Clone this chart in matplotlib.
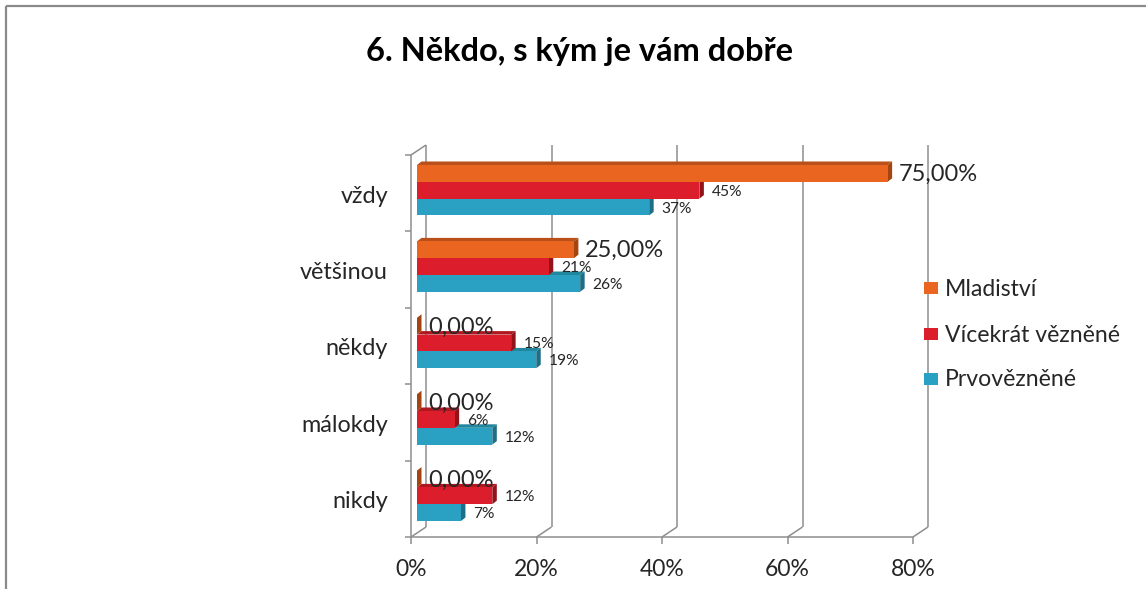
import matplotlib
matplotlib.use("Agg")
import matplotlib.pyplot as plt
from matplotlib.patches import Polygon, Rectangle
from matplotlib.lines import Line2D
from matplotlib.transforms import IdentityTransform

# ---- data ----
categories = ["vždy", "většinou", "někdy", "málokdy", "nikdy"]
series_names = ["Mladiství", "Vícekrát vězněné", "Prvovězněné"]
mladistvi = [75, 25, 0, 0, 0]
vicekrat = [45, 21, 15, 6, 12]
prvovezneni = [37, 26, 19, 12, 7]
x_ticks = [0, 20, 40, 60, 80]
x_tick_labels = ["0%", "20%", "40%", "60%", "80%"]
title = "6. Někdo, s kým je vám dobře"

face_colors = ["#EA6520", "#DC1E2C", "#2AA1C2"]
cap_colors = ["#A4450F", "#93131B", "#1C6F86"]
top_colors = ["#B9501A", "#B01820", "#23869F"]
label_big = [True, False, False]

FONT = "Lato"
W, H = 1146, 589
fig = plt.figure(figsize=(W / 100, H / 100), dpi=100)
ax = fig.add_axes([411 / W, (H - 537) / H, 502 / W, 382 / H])
ax.set_xlim(0, 80)
ax.set_ylim(-0.5, len(categories) - 0.5)
ax.axis("off")

ID = IdentityTransform()
grid_c = "#8E8E8E"
lw = 1.1

WX, WY = 15, 10   # wall depth (display px)
FX, FY = 6, 3     # bar front face offset
BX, BY = 10.5, 6.5  # bar back face offset


def P(x, y, dx=0.0, dy=0.0):
    a = ax.transData.transform((x, y))
    return (a[0] + dx, a[1] + dy)


def line(p1, p2, **kw):
    fig.add_artist(Line2D([p1[0], p2[0]], [p1[1], p2[1]], transform=ID,
                          color=kw.get("color", grid_c), lw=kw.get("lw", lw),
                          zorder=kw.get("zorder", 1), solid_capstyle="butt"))


ytop = len(categories) - 0.5
# back wall gridlines & floor
for t in x_ticks:
    line(P(t, -0.5, WX, WY), P(t, ytop, WX, WY))
    line(P(t, -0.5), P(t, -0.5, WX, WY))
    line(P(t, -0.5), P(t, -0.5, 0, -7))
line(P(0, -0.5), P(0, ytop))
line(P(0, ytop), P(0, ytop, WX, WY))
line(P(0, -0.5), P(x_ticks[-1], -0.5))
for k in range(len(categories) + 1):
    b = -0.5 + k
    line(P(0, b), P(0, b, -6, 0))

# bars
series = [mladistvi, vicekrat, prvovezneni]
bh = 0.22
offsets = [bh, 0.0, -bh]
n = len(categories)
for i, cat in enumerate(categories):
    pos = n - 1 - i
    for j in [2, 1, 0]:
        v = series[j][i]
        yc = pos + offsets[j]
        y0, y1 = yc - bh / 2, yc + bh / 2
        fl_b = P(0, y0, FX, FY); fr_b = P(v, y0, FX, FY)
        fr_t = P(v, y1, FX, FY); fl_t = P(0, y1, FX, FY)
        bl_t = P(0, y1, BX, BY); br_t = P(v, y1, BX, BY)
        br_b = P(v, y0, BX, BY)
        fig.add_artist(Polygon([fl_t, fr_t, br_t, bl_t], closed=True, transform=ID,
                               facecolor=top_colors[j], edgecolor="none", zorder=3))
        fig.add_artist(Polygon([fr_b, fr_t, br_t, br_b], closed=True, transform=ID,
                               facecolor=cap_colors[j], edgecolor="none", zorder=3))
        if v > 0:
            fig.add_artist(Polygon([fl_b, fr_b, fr_t, fl_t], closed=True, transform=ID,
                                   facecolor=face_colors[j], edgecolor="none", zorder=3))
        cx, cy = P(v, yc, BX, FY)
        if label_big[j]:
            txt = f"{v:.2f}%".replace(".", ",")
            fig.text(cx + 7, cy - 1, txt, transform=ID, ha="left", va="center",
                     fontsize=17, family=FONT, color="#262626", zorder=5)
        else:
            txt = f"{v}%"
            fig.text(cx + 8, cy - 1.5, txt, transform=ID, ha="left", va="center",
                     fontsize=11.2, family=FONT, color="#262626", zorder=5)
    lx, ly = P(0, pos)
    fig.text(388, ly - 3, cat, transform=ID, ha="right", va="center",
             fontsize=16.8, family=FONT, color="#262626")

# x tick labels
for t, lab in zip(x_ticks, x_tick_labels):
    tx, ty = P(t, -0.5)
    fig.text(tx, H - 569, lab, transform=ID, ha="center", va="center",
             fontsize=16.5, family=FONT, color="#262626")

# title
fig.text(580, H - 52, title, transform=ID, ha="center", va="center",
         fontsize=23.5, fontweight="bold", family=FONT, color="#000000")

# legend
leg_y = [288, 334, 379]
for j, name in enumerate(series_names):
    yy = H - leg_y[j]
    fig.add_artist(Rectangle((924, yy - 6), 14, 12, transform=ID,
                             facecolor=face_colors[j], edgecolor="none"))
    fig.text(945, yy - 1, name, transform=ID, ha="left", va="center",
             fontsize=16.6, family=FONT, color="#262626")

# outer border
line((6, H - 6), (W, H - 6), color="#8A8A8A", lw=1.6)
line((6, H - 6), (6, 0), color="#8A8A8A", lw=1.6)

fig.savefig("out.png", dpi=100)
